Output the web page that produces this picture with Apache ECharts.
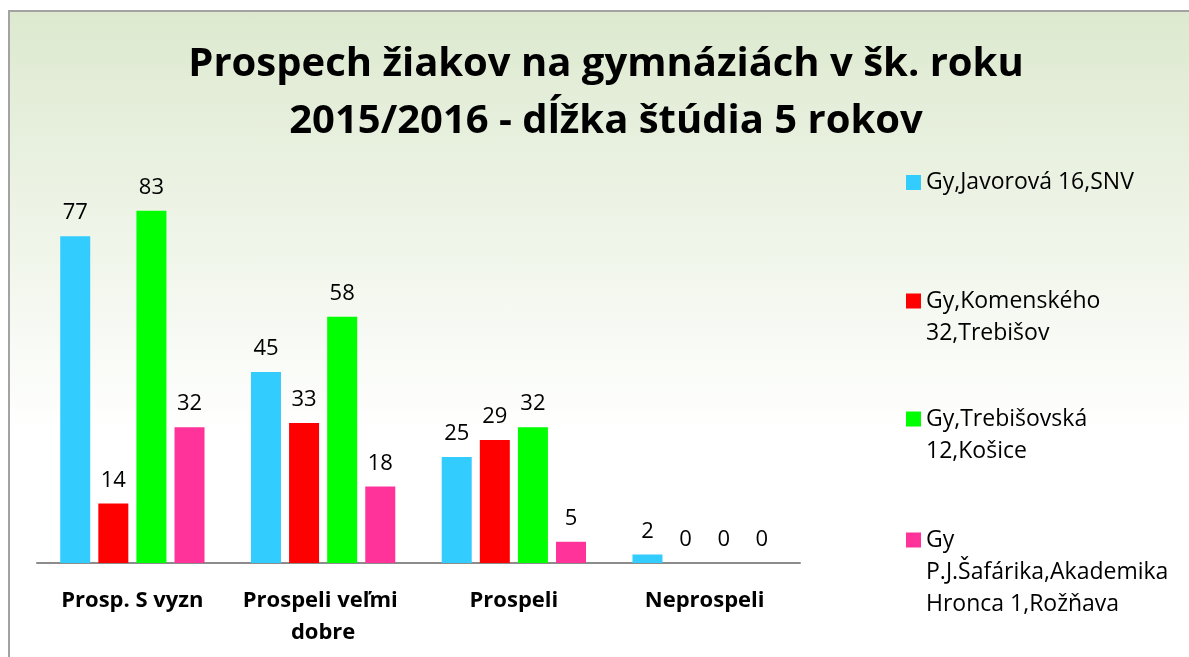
<!DOCTYPE html>
<html>
<head>
<meta charset="utf-8">
<script src="https://cdn.jsdelivr.net/npm/echarts@6/dist/echarts.min.js"></script>
<style>
  html, body { margin: 0; padding: 0; background: #fff; overflow: hidden; }
  #frame {
    position: absolute; left: 8px; top: 10px; width: 1300px; height: 680px;
    border: 2px solid #a3a3a3;
    background: linear-gradient(to bottom, #dde9cf 0%, #ffffff 62%, #ffffff 100%);
  }
  #chart { position: absolute; left: 0; top: 0; width: 1189px; height: 657px; }
</style>
</head>
<body>
<div id="frame"></div>
<div id="chart"></div>
<script>
const categories = ['Prosp. S vyzn', 'Prospeli veľmi dobre', 'Prospeli', 'Neprospeli']
const schools = [
  'Gy,Javorová 16,SNV',
  'Gy,Komenského 32,Trebišov',
  'Gy,Trebišovská 12,Košice',
  'Gy P.J.Šafárika,Akademika Hronca 1,Rožňava'
]
// how the legend wraps the names
const legendLabels = [
  'Gy,Javorová 16,SNV',
  'Gy,Komenského\n32,Trebišov',
  'Gy,Trebišovská\n12,Košice',
  'Gy\nP.J.Šafárika,Akademika\nHronca 1,Rožňava'
]
const javorova = [77, 45, 25, 2]
const komenskeho = [14, 33, 29, 0]
const trebisovska = [83, 58, 32, 0]
const safarika = [32, 18, 5, 0]

const colors = ['#33ccff', '#ff0000', '#00ff00', '#ff3399']
const seriesValues = [javorova, komenskeho, trebisovska, safarika]

// legend slots (Excel spreads them evenly down the right side)
const legendCenters = [182.5, 301, 419, 540]
const lineH = 32
const font = '"Open Sans", Lato, sans-serif'

const chart = echarts.init(document.getElementById('chart'), null, { renderer: 'canvas' })

chart.setOption({
  backgroundColor: 'transparent',
  animation: false,
  title: {
    text: 'Prospech žiakov na gymnáziách v šk. roku\n2015/2016 - dĺžka štúdia 5 rokov',
    left: 606,
    top: 36,
    padding: 0,
    textAlign: 'center',
    textStyle: {
      fontFamily: font,
      fontWeight: 'bold',
      fontSize: 40,
      lineHeight: 57,
      color: '#000'
    }
  },
  legend: schools.map((name, i) => {
    const n = legendLabels[i].split('\n').length
    return {
      data: [name],
      orient: 'vertical',
      left: 906,
      top: legendCenters[i] - (2 * n - 1) * lineH / 2,
      padding: 0,
      icon: 'rect',
      itemWidth: 15,
      itemHeight: 15,
      itemGap: 0,
      selectedMode: false,
      // blank lines in front keep the square level with the first line
      formatter: () => '\n'.repeat(n - 1) + legendLabels[i],
      textStyle: {
        fontFamily: font,
        fontSize: 23,
        color: '#000',
        lineHeight: lineH
      }
    }
  }),
  grid: {
    left: 37,
    right: 389,
    top: 181,
    bottom: 94,
    containLabel: false
  },
  xAxis: {
    type: 'category',
    data: categories,
    axisLine: { show: true, lineStyle: { color: '#8c8c8c', width: 2 } },
    axisTick: { show: false },
    splitLine: { show: false },
    axisLabel: {
      interval: 0,
      margin: 22,
      fontFamily: font,
      fontWeight: 'bold',
      fontSize: 22,
      lineHeight: 32,
      color: '#000',
      width: 180,
      overflow: 'break'
    }
  },
  yAxis: {
    type: 'value',
    min: 0,
    max: 90,
    show: false,
    splitLine: { show: false }
  },
  series: schools.map((name, i) => ({
    name: name,
    type: 'bar',
    barWidth: 30,
    barGap: '27%',
    itemStyle: { color: colors[i] },
    label: {
      show: true,
      position: 'top',
      distance: 12,
      fontFamily: font,
      fontSize: 22,
      color: '#000'
    },
    data: seriesValues[i]
  }))
})
</script>
</body>
</html>
